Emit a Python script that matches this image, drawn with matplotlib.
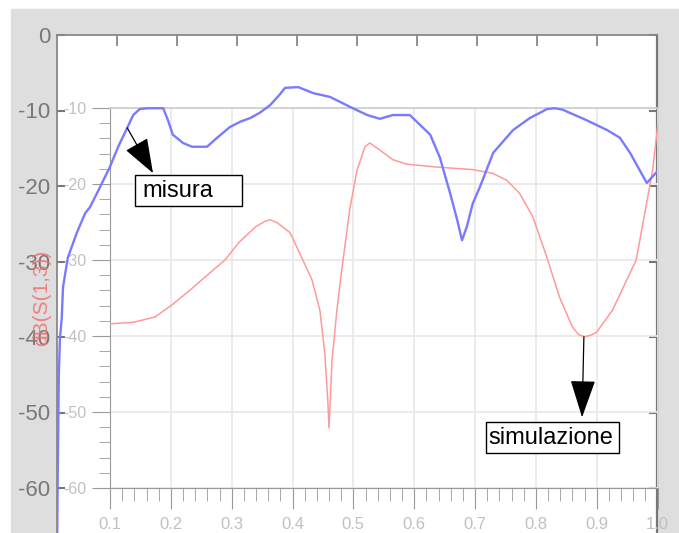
import matplotlib
matplotlib.use('Agg')
import matplotlib.pyplot as plt
from matplotlib import font_manager
from matplotlib.patches import Rectangle

# measured trace (outer frame, 0..1 on x)
misura_x = [0.0, 0.001, 0.003, 0.005, 0.008, 0.010, 0.018, 0.033, 0.047, 0.055,
            0.072, 0.088, 0.102, 0.117, 0.127, 0.138, 0.152, 0.177, 0.185, 0.193,
            0.210, 0.225, 0.250, 0.267, 0.288, 0.305, 0.322, 0.338, 0.355, 0.370,
            0.380, 0.402, 0.427, 0.455, 0.493, 0.517, 0.538, 0.560, 0.588, 0.605,
            0.622, 0.638, 0.655, 0.667, 0.675, 0.683, 0.693, 0.705, 0.727, 0.760,
            0.788, 0.817, 0.830, 0.843, 0.883, 0.917, 0.938, 0.955, 0.983, 1.0]
misura_y = [-70.0, -60.0, -45.0, -40.1, -37.4, -33.4, -29.5, -26.2, -23.6, -22.8,
            -20.1, -17.5, -14.8, -12.3, -10.6, -9.8, -9.7, -9.7, -11.3, -13.2,
            -14.3, -14.8, -14.8, -13.6, -12.2, -11.5, -11.0, -10.3, -9.3, -8.0,
            -7.0, -6.9, -7.7, -8.2, -9.7, -10.6, -11.1, -10.6, -10.6, -11.9,
            -13.2, -16.2, -20.9, -24.5, -27.2, -25.4, -22.3, -20.1, -15.6, -12.6,
            -11.0, -9.8, -9.7, -9.9, -11.3, -12.6, -13.6, -15.6, -19.6, -18.1]

# simulated trace (inner frame, 0.1..1.0 on x)
sim_x = [0.100, 0.138, 0.174, 0.202, 0.231, 0.264, 0.289, 0.313, 0.340, 0.355,
         0.363, 0.375, 0.396, 0.417, 0.432, 0.445, 0.453, 0.458, 0.460, 0.465,
         0.473, 0.481, 0.494, 0.506, 0.519, 0.527, 0.543, 0.565, 0.588, 0.642,
         0.696, 0.729, 0.752, 0.773, 0.795, 0.818, 0.839, 0.860, 0.870, 0.880,
         0.890, 0.900, 0.926, 0.965, 0.992, 1.0]
sim_y = [-38.4, -38.2, -37.5, -35.9, -34.0, -31.7, -30.0, -27.6, -25.6, -24.9,
         -24.7, -25.1, -26.4, -30.0, -32.6, -36.6, -42.2, -48.4, -52.1, -43.2,
         -36.6, -31.3, -23.4, -18.2, -15.1, -14.6, -15.5, -16.8, -17.4, -17.8,
         -18.1, -18.6, -19.5, -21.2, -24.3, -29.6, -34.9, -38.8, -39.8, -40.1,
         -39.9, -39.5, -36.6, -30.0, -18.2, -12.5]

outer_yticks = [0, -10, -20, -30, -40, -50, -60]
outer_ylabels = ['0', '-10', '-20', '-30', '-40', '-50', '-60']
outer_xticks = [0.1, 0.2, 0.3, 0.4, 0.5, 0.6, 0.7, 0.8, 0.9]
inner_yticks = [-10, -20, -30, -40, -50, -60]
inner_ylabels = ['-10', '-20', '-30', '-40', '-50', '-60']
inner_xticks = [0.1, 0.2, 0.3, 0.4, 0.5, 0.6, 0.7, 0.8, 0.9, 1.0]
inner_xlabels = ['0.1', '0.2', '0.3', '0.4', '0.5', '0.6', '0.7', '0.8', '0.9', '1.0']

names = {f.name for f in font_manager.fontManager.ttflist}
if 'Liberation Sans Narrow' in names:
    narrow = 'Liberation Sans Narrow'
    big = 20
else:
    narrow = 'Liberation Sans'
    big = 17

W, H = 679, 533
fig = plt.figure(figsize=(W / 100, H / 100), dpi=100)
fig.patch.set_facecolor('white')


def box(l, t, r, b):
    # pixel box -> figure fraction
    return [l / W, (H - b) / H, (r - l) / W, (b - t) / H]


fig.add_artist(Rectangle((11 / W, 0), 1 - 11 / W, (H - 9) / H,
                         transform=fig.transFigure, color='#dedede', zorder=-10))

ax_out = fig.add_axes(box(57, 35, 657, 563.5))
ax_out.set_zorder(0)
ax_out.set_facecolor('white')
ax_in = fig.add_axes(box(110, 108, 657.5, 488))
ax_in.set_zorder(1)
ax_in.set_facecolor('none')

# outer frame
ax_out.set_xlim(0, 1)
ax_out.set_ylim(-70, 0)
ax_out.spines['bottom'].set_visible(False)
for s in ['left', 'top']:
    ax_out.spines[s].set_color('#888888')
    ax_out.spines[s].set_linewidth(1.3)
ax_out.spines['right'].set_color('#777777')
ax_out.spines['right'].set_linewidth(1.6)
ax_out.xaxis.tick_top()
ax_out.set_xticks(outer_xticks)
ax_out.tick_params(axis='x', direction='in', length=8, width=1.3, color='#888888',
                   labeltop=False, labelbottom=False)
ax_out.set_yticks(outer_yticks)
ax_out.set_yticklabels(outer_ylabels, family=narrow)
ax_out.tick_params(axis='y', direction='in', length=6, width=1.5, color='#777777',
                   labelsize=16, labelcolor='#787878', pad=5, right=True)

# inner frame
ax_in.set_xlim(0.1, 1.0)
ax_in.set_ylim(-60, -10)
ax_in.spines['right'].set_visible(False)
ax_in.spines['top'].set_color('#cccccc')
ax_in.spines['top'].set_linewidth(1.2)
ax_in.spines['left'].set_color('#999999')
ax_in.spines['bottom'].set_color('#999999')
ax_in.set_xticks(inner_xticks)
ax_in.set_xticklabels(inner_xlabels, family=narrow)
ax_in.set_xticks([0.1 + 0.02 * i for i in range(46)], minor=True)
ax_in.set_yticks(inner_yticks)
ax_in.set_yticklabels(inner_ylabels, family=narrow)
ax_in.set_yticks(list(range(-60, -9, 2)), minor=True)
ax_in.tick_params(axis='x', which='major', direction='out', length=15, color='#999999',
                  labelsize=12, labelcolor='#c0c0c0', pad=6)
ax_in.tick_params(axis='x', which='minor', direction='out', length=9, color='#999999')
ax_in.tick_params(axis='y', which='major', direction='out', length=13, color='#999999',
                  labelsize=11.5, labelcolor='#c0c0c0', pad=4)
ax_in.tick_params(axis='y', which='minor', direction='out', length=8, color='#999999')
ax_in.grid(True, which='major', color='#e8e8e8', lw=1.2)
ax_in.set_axisbelow(True)

ax_in.plot(sim_x, sim_y, color='#ff9a9a', lw=1.1, zorder=3)
blue, = ax_in.plot(misura_x, misura_y, color='#7a7aff', lw=1.7, zorder=4,
                   solid_joinstyle='round', transform=ax_out.transData)
blue.set_clip_path(ax_out.patch)
ax_in.set_xlim(0.1, 1.0)
ax_in.set_ylim(-60, -10)

fig.text(42 / W, 1 - 298 / H, 'dB(S(1,3))', rotation=90, color='#ee7070', alpha=0.85,
         fontsize=15, family=narrow, ha='center', va='center')

# labels with arrows
ax_in.add_patch(Rectangle((0.13, -22.6), 0.178, 4.1, transform=ax_out.transData,
                          fc='white', ec='black', lw=1, clip_on=False, zorder=6))
ax_in.text(0.142, -20.6, 'misura', transform=ax_out.transData, fontsize=big,
           family=narrow, va='center', ha='left', zorder=7)
ax_in.annotate('', xy=(0.16, -18.3), xycoords=ax_out.transData,
               xytext=(0.117, -12.3), textcoords=ax_out.transData,
               arrowprops=dict(arrowstyle='-|>,head_length=2.2,head_width=0.8',
                               mutation_scale=10, color='black', lw=0.9,
                               shrinkA=0, shrinkB=0), zorder=7, annotation_clip=False)

ax_in.add_patch(Rectangle((0.7175, -55.4), 0.2185, 4.1, fc='white', ec='black', lw=1,
                          clip_on=False, zorder=6))
ax_in.text(0.722, -53.4, 'simulazione', fontsize=big, family=narrow,
           va='center', ha='left', zorder=7)
ax_in.annotate('', xy=(0.876, -50.7), xytext=(0.879, -40.1),
               arrowprops=dict(arrowstyle='-|>,head_length=2.4,head_width=0.8',
                               mutation_scale=10, color='black', lw=0.9,
                               shrinkA=0, shrinkB=0), zorder=7, annotation_clip=False)

fig.savefig('out.png', dpi=100)
